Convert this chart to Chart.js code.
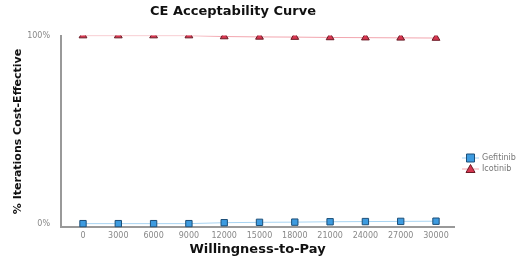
<!DOCTYPE html>
<html>
<head>
<meta charset="utf-8">
<script src="https://cdn.jsdelivr.net/npm/chart.js@4/dist/chart.umd.min.js"></script>
<style>
  html, body { margin: 0; padding: 0; background: #fff; }
  #wrap { width: 519px; height: 256px; }
</style>
</head>
<body>
<div id="wrap"><canvas id="chart" width="519" height="256"></canvas></div>
<script>
// === DATOS ===
const wtp = [0, 3000, 6000, 9000, 12000, 15000, 18000, 21000, 24000, 27000, 30000];
const gefitinib = [0, 0, 0, 0, 0.5, 0.7, 0.8, 1.0, 1.1, 1.2, 1.3];
const icotinib = [100, 100, 100, 100, 99.5, 99.3, 99.2, 99.0, 98.9, 98.8, 98.7];
const yTicks = [0, 100];

const fontFam = "'DejaVu Sans', Verdana, sans-serif";

// === LEYENDA A MANO ===
const leyenda = {
  id: "leyenda",
  afterDraw(chart) {
    const ctx = chart.ctx;
    const items = [
      { label: "Gefitinib", ds: chart.data.datasets[0], y: 158 },
      { label: "Icotinib", ds: chart.data.datasets[1], y: 169 }
    ];
    ctx.save();
    items.forEach(it => {
      ctx.strokeStyle = it.ds.borderColor;
      ctx.lineWidth = 1;
      ctx.beginPath();
      ctx.moveTo(462, it.y);
      ctx.lineTo(479, it.y);
      ctx.stroke();
      ctx.fillStyle = it.ds.pointBackgroundColor;
      ctx.strokeStyle = it.ds.pointBorderColor;
      ctx.beginPath();
      if (it.ds.pointStyle === "rect") {
        ctx.rect(466.5, it.y - 4, 8, 8);
      } else {
        ctx.moveTo(470.5, it.y - 4.5);
        ctx.lineTo(475, it.y + 3.5);
        ctx.lineTo(466, it.y + 3.5);
        ctx.closePath();
      }
      ctx.fill();
      ctx.stroke();
      ctx.fillStyle = "#777";
      ctx.font = "8px " + fontFam;
      ctx.textBaseline = "middle";
      ctx.fillText(it.label, 482, it.y);
    });
    ctx.restore();
  }
};

new Chart(document.getElementById("chart"), {
  type: "line",
  data: {
    datasets: [
      {
        label: "Gefitinib",
        data: wtp.map((x, i) => ({ x: x, y: gefitinib[i] })),
        borderColor: "#a8d4f2",
        borderWidth: 1,
        pointStyle: "rect",
        pointRadius: 4.5,
        pointBackgroundColor: "#3d9be0",
        pointBorderColor: "#1d4f78",
        pointBorderWidth: 1
      },
      {
        label: "Icotinib",
        data: wtp.map((x, i) => ({ x: x, y: icotinib[i] })),
        borderColor: "#f2a5ae",
        borderWidth: 1,
        pointStyle: "triangle",
        pointRadius: 4.5,
        pointBackgroundColor: "#d6354f",
        pointBorderColor: "#6a1a25",
        pointBorderWidth: 1
      }
    ]
  },
  options: {
    responsive: false,
    animation: false,
    layout: { padding: { left: 12, right: 65, top: 0, bottom: 0 } },
    plugins: {
      legend: { display: false },
      tooltip: { enabled: false },
      title: {
        display: true,
        text: "CE Acceptability Curve",
        color: "#111",
        font: { family: fontFam, size: 13, weight: "bold" },
        padding: { top: 4, bottom: 16 }
      }
    },
    scales: {
      x: {
        type: "linear",
        min: -1870,
        max: 31530,
        afterBuildTicks: s => { s.ticks = wtp.map(v => ({ value: v })); },
        grid: { display: false, drawTicks: false },
        border: { display: true, color: "#999", width: 2 },
        ticks: { color: "#888", font: { family: fontFam, size: 8 }, maxRotation: 0, padding: 4,
                 callback: v => String(v) },
        title: {
          display: true,
          text: "Willingness-to-Pay",
          color: "#111",
          font: { family: fontFam, size: 13, weight: "bold", lineHeight: 1 },
          padding: { top: -2, bottom: 0 }
        }
      },
      y: {
        min: -2,
        max: 100,
        afterBuildTicks: s => { s.ticks = yTicks.map(v => ({ value: v })); },
        afterFit: s => { s.width = 49; },
        grid: { display: false },
        border: { display: true, color: "#999", width: 2 },
        ticks: { color: "#888", font: { family: fontFam, size: 8 }, callback: v => v + "%" },
        title: {
          display: true,
          text: "% Iterations Cost-Effective",
          color: "#111",
          font: { family: fontFam, size: 11, weight: "bold" },
          padding: { top: 0, bottom: 2 }
        }
      }
    }
  },
  plugins: [leyenda]
});
</script>
</body>
</html>
